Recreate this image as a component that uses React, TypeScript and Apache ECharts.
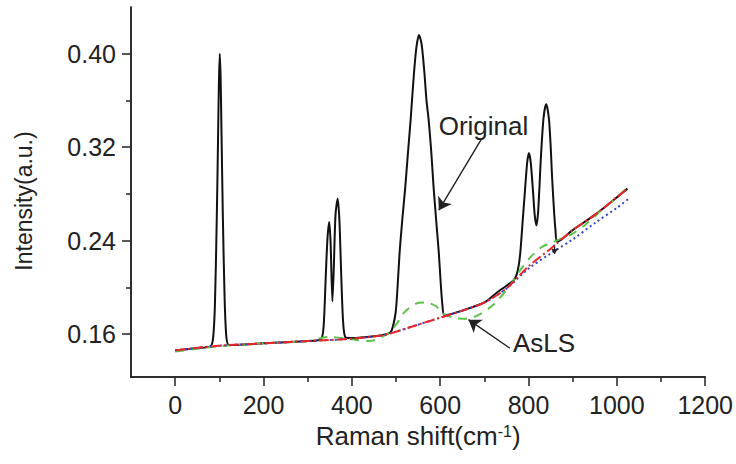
import { useEffect, useRef } from 'react';
import * as echarts from 'echarts';

const FONT = 'Liberation Sans, Arial, sans-serif';

const xMajorTicks = [0, 200, 400, 600, 800, 1000, 1200];
const xMinorTicks = [100, 300, 500, 700, 900, 1100];
const yMajorTicks = [0.16, 0.24, 0.32, 0.4];
const yMinorTicks = [0.2, 0.28, 0.36];

const originalSpectrum = [
  [0, 0.146], [50, 0.148], [80, 0.1495], [86, 0.157], [90, 0.185], [94, 0.255], [97, 0.325], [99, 0.375],
  [101, 0.4], [103, 0.378], [105, 0.33], [108, 0.26], [112, 0.19], [116, 0.157], [122, 0.1505],
  [200, 0.152], [300, 0.154], [330, 0.1555], [336, 0.166], [341, 0.21], [345, 0.243], [349, 0.256],
  [352, 0.237], [356, 0.188], [359, 0.215], [363, 0.262], [368, 0.276], [372, 0.256], [376, 0.21],
  [380, 0.172], [385, 0.1575], [400, 0.1565], [450, 0.158], [480, 0.16], [490, 0.163], [499, 0.178],
  [503, 0.197], [508, 0.229], [514, 0.257], [521, 0.286], [527, 0.315], [533, 0.343], [540, 0.38],
  [546, 0.405], [552, 0.416], [558, 0.408], [564, 0.385], [569, 0.36], [574, 0.343], [580, 0.315],
  [585, 0.286], [591, 0.257], [597, 0.229], [601, 0.205], [605, 0.185], [610, 0.176], [650, 0.18],
  [700, 0.187], [730, 0.196], [760, 0.204], [770, 0.208], [776, 0.215], [781, 0.228], [787, 0.258],
  [792, 0.283], [797, 0.307], [801, 0.315], [805, 0.307], [810, 0.283], [814, 0.262], [818, 0.253],
  [822, 0.266], [828, 0.311], [834, 0.345], [840, 0.357], [846, 0.345], [850, 0.322], [853, 0.297],
  [857, 0.27], [861, 0.249], [865, 0.239], [900, 0.249], [950, 0.262], [1000, 0.277], [1024, 0.2845],
];

const aslsBaseline = [
  [0, 0.146], [100, 0.15], [200, 0.152], [300, 0.154], [400, 0.156], [470, 0.159], [500, 0.162],
  [550, 0.168], [600, 0.174], [650, 0.18], [700, 0.187], [750, 0.199], [800, 0.218], [850, 0.233],
  [900, 0.249], [950, 0.262], [1000, 0.277], [1024, 0.2845],
];

const blueBaseline = [
  [0, 0.146], [100, 0.15], [200, 0.152], [300, 0.154], [400, 0.156], [470, 0.159], [500, 0.162],
  [550, 0.168], [600, 0.174], [650, 0.18], [700, 0.187], [750, 0.199], [800, 0.216], [850, 0.229],
  [900, 0.241], [950, 0.255], [1000, 0.268], [1027, 0.276],
];

const greenBaseline = [
  [0, 0.145], [100, 0.1495], [200, 0.152], [300, 0.154], [350, 0.1575], [400, 0.1555], [440, 0.154],
  [480, 0.16], [500, 0.168], [520, 0.179], [545, 0.186], [567, 0.187], [590, 0.184], [605, 0.178],
  [630, 0.174], [660, 0.173], [690, 0.177], [720, 0.185], [755, 0.2], [780, 0.214], [805, 0.226],
  [830, 0.2345], [850, 0.238], [870, 0.241], [900, 0.246], [930, 0.254], [965, 0.266], [1000, 0.277],
  [1024, 0.2855],
];

const annotationLabels = [
  { name: 'Original', coord: [698, 0.338] },
  { name: 'AsLS', coord: [835, 0.152] },
];
const annotationArrows = [
  { from: [694, 0.3273], to: [597, 0.266], head: 12 },
  { from: [758, 0.1478], to: [664, 0.1723], head: 12 },
  { from: [859, 0.2365], to: [859, 0.2285], head: 6 },
];

const AXIS_COLOR = '#222';

export default function App() {
  const ref = useRef<HTMLDivElement>(null);
  useEffect(() => {
    const chart = echarts.init(ref.current!, null, { renderer: 'svg' });
    const xCommon = {
      type: 'value',
      min: -100,
      max: 1200,
      position: 'bottom',
      splitLine: { show: false },
      axisLine: { show: true, onZero: false, lineStyle: { color: AXIS_COLOR, width: 1.5 } },
    };
    const yCommon = {
      type: 'value',
      min: 0.1232,
      max: 0.44,
      position: 'left',
      splitLine: { show: false },
      axisLine: { show: true, onZero: false, lineStyle: { color: AXIS_COLOR, width: 1.5 } },
    };
    chart.setOption({
      animation: false,
      backgroundColor: '#fff',
      grid: { left: 131, right: 28, top: 7, bottom: 87, containLabel: false },
      xAxis: [
        {
          ...xCommon,
          axisTick: { show: true, customValues: xMajorTicks, length: 9, lineStyle: { color: AXIS_COLOR, width: 1.5 } },
          axisLabel: {
            customValues: xMajorTicks,
            margin: 15,
            fontSize: 25,
            color: AXIS_COLOR,
            fontFamily: FONT,
            formatter: (v: number) => String(v),
          },
          name: '{a|Raman shift(cm}{s|-1}{a|)}',
          nameLocation: 'middle',
          nameGap: 46,
          nameTextStyle: {
            rich: {
              a: { fontSize: 26, fontFamily: FONT, color: AXIS_COLOR },
              s: { fontSize: 16, fontFamily: FONT, color: AXIS_COLOR, verticalAlign: 'top' },
            },
          },
        },
        {
          ...xCommon,
          axisTick: { show: true, customValues: xMinorTicks, length: 5, lineStyle: { color: AXIS_COLOR, width: 1.5 } },
          axisLabel: { show: false },
        },
      ],
      yAxis: [
        {
          ...yCommon,
          axisTick: { show: true, customValues: yMajorTicks, length: 9, lineStyle: { color: AXIS_COLOR, width: 1.5 } },
          axisLabel: {
            customValues: yMajorTicks,
            margin: 15,
            fontSize: 25,
            color: AXIS_COLOR,
            fontFamily: FONT,
            formatter: (v: number) => v.toFixed(2),
          },
          name: 'Intensity(a.u.)',
          nameLocation: 'middle',
          nameGap: 96,
          nameTextStyle: { fontSize: 23, fontFamily: FONT, color: AXIS_COLOR, padding: [0, 18, 0, 0] },
        },
        {
          ...yCommon,
          axisTick: { show: true, customValues: yMinorTicks, length: 5, lineStyle: { color: AXIS_COLOR, width: 1.5 } },
          axisLabel: { show: false },
        },
      ],
      series: [
        {
          name: 'Original',
          type: 'line',
          data: originalSpectrum,
          showSymbol: false,
          smooth: 0.25,
          lineStyle: { color: '#111', width: 2 },
          z: 2,
        },
        {
          name: 'green',
          type: 'line',
          data: greenBaseline,
          showSymbol: false,
          smooth: 0.3,
          lineStyle: { color: '#5ec24a', width: 2, type: [9, 7] },
          z: 3,
        },
        {
          name: 'blue',
          type: 'line',
          data: blueBaseline,
          showSymbol: false,
          smooth: 0.3,
          lineStyle: { color: '#3346c4', width: 2, type: [2, 3] },
          z: 4,
        },
        {
          name: 'AsLS',
          type: 'line',
          data: aslsBaseline,
          showSymbol: false,
          smooth: 0.3,
          lineStyle: { color: '#e8262a', width: 2, type: [10, 3, 2, 3] },
          z: 5,
        },
        {
          name: 'annotations',
          type: 'line',
          data: [],
          z: 10,
          markLine: {
            silent: true,
            symbol: ['none', 'arrow'],
            symbolSize: 12,
            label: { show: false },
            itemStyle: { color: '#222' },
            lineStyle: { color: '#222', width: 1.4, type: 'solid' },
            data: annotationArrows.map((a) => [
              { coord: a.from, symbol: 'none' },
              { coord: a.to, symbol: 'arrow', symbolSize: a.head },
            ]),
          },
          markPoint: {
            silent: true,
            symbol: 'circle',
            symbolSize: 1,
            itemStyle: { color: 'rgba(0,0,0,0)' },
            label: {
              show: true,
              position: 'inside',
              formatter: '{b}',
              fontSize: 26,
              fontFamily: FONT,
              color: '#222',
            },
            data: annotationLabels.map((d) => ({ name: d.name, coord: d.coord })),
          },
        },
      ],
    });
    return () => chart.dispose();
  }, []);
  return <div ref={ref} style={{ position: 'fixed', left: 0, top: 0, width: 736, height: 464 }} />;
}
